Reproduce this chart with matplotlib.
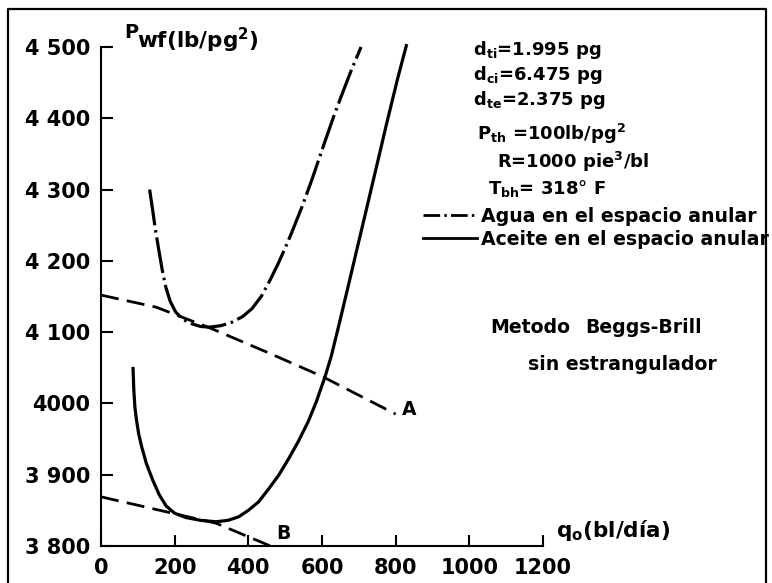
import matplotlib
matplotlib.use("Agg")
import matplotlib.pyplot as plt
from matplotlib.lines import Line2D

plt.rcParams['font.family'] = ['DejaVu Sans']
plt.rcParams['font.weight'] = 'bold'
plt.rcParams['mathtext.fontset'] = 'custom'
plt.rcParams['mathtext.rm'] = 'DejaVu Sans:bold'
plt.rcParams['mathtext.it'] = 'DejaVu Sans:bold'
plt.rcParams['mathtext.bf'] = 'DejaVu Sans:bold'
plt.rcParams['mathtext.default'] = 'rm'
plt.rcParams['lines.scale_dashes'] = False

# ---- data ----
agua_q = [132, 140, 148, 157, 166, 176, 188, 203, 222, 245, 270, 294, 325, 356, 385,
          410, 435, 458, 480, 500, 518, 545, 572, 603, 630, 653, 680, 706]
agua_p = [4300, 4272, 4243, 4215, 4188, 4163, 4143, 4128, 4118, 4112, 4108, 4107, 4109,
          4114, 4122, 4133, 4150, 4172, 4195, 4218, 4240, 4275, 4313, 4360, 4400, 4432,
          4468, 4500]

aceite_q = [87, 89, 92, 96, 102, 110, 123, 140, 158, 177, 200, 230, 270, 312, 345, 374,
            400, 428, 455, 482, 509, 535, 563, 585, 608, 625, 645, 670, 697, 720, 747,
            778, 805, 829]
aceite_p = [4049, 4020, 3995, 3978, 3958, 3940, 3916, 3893, 3872, 3856, 3846, 3840, 3836,
            3834, 3836, 3841, 3850, 3862, 3880, 3899, 3922, 3946, 3975, 4003, 4037, 4066,
            4108, 4162, 4221, 4271, 4330, 4398, 4455, 4502]

ipr_a_q = [0, 150, 300, 450, 600, 800]
ipr_a_p = [4152, 4135, 4105, 4072, 4038, 3985]

ipr_b_q = [0, 177, 312, 460]
ipr_b_p = [3869, 3848, 3832, 3800]

x_ticks = [0, 200, 400, 600, 800, 1000, 1200]
y_ticks = [3800, 3900, 4000, 4100, 4200, 4300, 4400, 4500]
y_ticklabels = ['3 800', '3 900', '4000', '4 100', '4 200', '4 300', '4 400', '4 500']

W, H = 772, 583
fig = plt.figure(figsize=(W / 100, H / 100), dpi=100)

def fx(px):
    return px / W

def fy(py):
    return 1 - py / H

ax = fig.add_axes([fx(101), fy(546), fx(543) - fx(101), fy(47) - fy(546)])
ax.set_xlim(0, 1200)
ax.set_ylim(3800, 4500)

dashdot = (0, (26, 3.5, 1.8, 3.5))
dashed = (0, (13, 6))

ax.plot(agua_q, agua_p, color='black', lw=2.3, linestyle=dashdot, clip_on=False,
        solid_joinstyle='round', dash_joinstyle='round')
ax.plot(aceite_q, aceite_p, color='black', lw=2.3, clip_on=False, solid_joinstyle='round')
ax.plot(ipr_a_q, ipr_a_p, color='black', lw=2.0, linestyle=dashed, clip_on=False)
ax.plot(ipr_b_q, ipr_b_p, color='black', lw=2.0, linestyle=dashed, clip_on=False)

ax.text(818, 3992, 'A', fontsize=13.5, fontweight='bold', ha='left', va='center')
ax.text(477, 3818, 'B', fontsize=13.5, fontweight='bold', ha='left', va='center')

for s in ['top', 'right']:
    ax.spines[s].set_visible(False)
for s in ['left', 'bottom']:
    ax.spines[s].set_linewidth(1.5)

ax.set_xticks(x_ticks)
ax.set_xticklabels([str(v) for v in x_ticks])
ax.set_yticks(y_ticks)
ax.set_yticklabels(y_ticklabels)
ax.tick_params(axis='both', direction='in', width=1.5, labelsize=15)
ax.tick_params(axis='y', length=8.5, pad=8)
ax.tick_params(axis='x', length=8, pad=9)
for lab in ax.get_xticklabels() + ax.get_yticklabels():
    lab.set_fontweight('bold')

# axis titles
fig.text(fx(124), fy(38), 'P', fontsize=14, fontweight='bold', ha='left', va='baseline')
fig.text(fx(137), fy(48), 'wf(lb/pg$^2$)', fontsize=15.5, fontweight='bold', ha='left', va='baseline')
fig.text(fx(556), fy(537), 'q$_{o}$(bl/día)', fontsize=15.5, fontweight='bold', ha='left', va='baseline')

# annotations on the right
notes = [
    ('d$_{ti}$=1.995 pg', 473, 55, 13),
    ('d$_{ci}$=6.475 pg', 473, 80, 13),
    ('d$_{te}$=2.375 pg', 473, 105, 13),
    ('P$_{th}$ =100lb/pg$^2$', 477, 140, 13),
    ('R=1000 pie$^3$/bl', 497, 168, 13),
    ('T$_{bh}$= 318° F', 488, 194, 13),
    ('Agua en el espacio anular', 481, 222, 13.6),
    ('Aceite en el espacio anular', 481, 245, 13.6),
    ('Metodo', 490, 333, 13.6),
    ('Beggs-Brill', 585, 333, 13.6),
    ('sin estrangulador', 528, 370, 13.6),
]
for txt, px, py, fs in notes:
    fig.text(fx(px), fy(py), txt, fontsize=fs, fontweight='bold', ha='left', va='baseline')

# legend keys
fig.add_artist(Line2D([fx(423), fx(477)], [fy(215), fy(215)], color='black', lw=2.0,
                      linestyle=(0, (12, 3, 1.8, 3))))
fig.add_artist(Line2D([fx(423), fx(477)], [fy(238), fy(238)], color='black', lw=2.0))

# outer frame
fig.add_artist(Line2D([fx(8), fx(8), fx(766), fx(766)],
                      [0, fy(9), fy(9), 0], color='black', lw=1.6))

fig.savefig('out.png', dpi=100)
